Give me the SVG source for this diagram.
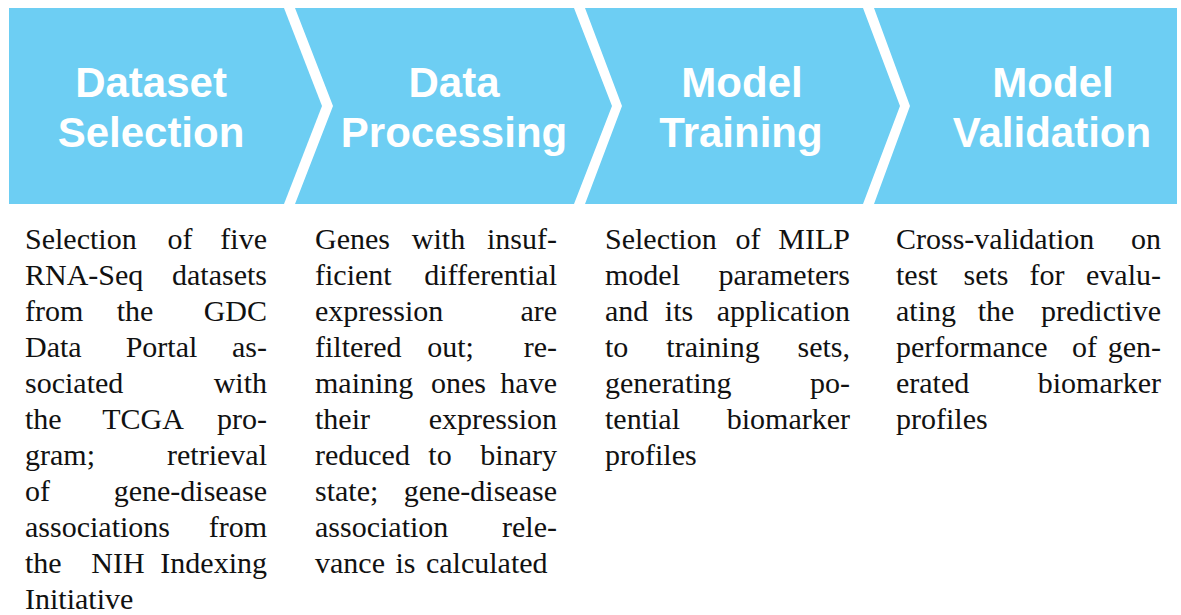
<svg xmlns="http://www.w3.org/2000/svg" width="1181" height="615" viewBox="0 0 1181 615">
<style>
.chev{fill:#6dcef3;}
.hd{font-family:"Liberation Sans",Arial,sans-serif;font-weight:bold;font-size:42px;fill:#ffffff;text-anchor:middle;}
.bd{font-family:"Liberation Serif","Times New Roman",serif;font-size:30px;fill:#111111;}
.m{text-anchor:middle;}
.r{text-anchor:end;}
</style>
<rect x="0" y="0" width="1181" height="615" fill="#ffffff"/>
<g id="connectors"/>
<g id="step1">
<polygon class="chev" points="9,8 284,8 322,106 284,204 9,204"/>
<text class="hd" x="151" y="97">Dataset</text>
<text class="hd" x="151" y="147">Selection</text>
<g class="bd">
<text x="25" y="249">Selection</text><text class="m" x="180" y="249">of</text><text class="r" x="267" y="249">five</text>
<text x="25" y="285">RNA-Seq</text><text class="r" x="267" y="285">datasets</text>
<text x="25" y="321">from</text><text class="m" x="135" y="321">the</text><text class="r" x="267" y="321">GDC</text>
<text x="25" y="357">Data</text><text class="m" x="161.5" y="357">Portal</text><text class="r" x="267" y="357">as-</text>
<text x="25" y="393">sociated</text><text class="r" x="267" y="393">with</text>
<text x="25" y="429">the</text><text class="m" x="143" y="429">TCGA</text><text class="r" x="267" y="429">pro-</text>
<text x="25" y="465">gram;</text><text class="r" x="267" y="465">retrieval</text>
<text x="25" y="501">of</text><text class="r" x="267" y="501">gene-disease</text>
<text x="25" y="537">associations</text><text class="r" x="267" y="537">from</text>
<text x="25" y="573">the</text><text class="m" x="118" y="573">NIH</text><text class="r" x="267" y="573">Indexing</text>
<text x="25" y="609">Initiative</text>
</g>
</g>
<g id="step2">
<polygon class="chev" points="295,8 574,8 612,106 574,204 295,204 333,106"/>
<text class="hd" x="454" y="97">Data</text>
<text class="hd" x="454" y="147">Processing</text>
<g class="bd">
<text x="315" y="249">Genes</text><text class="m" x="438.5" y="249">with</text><text class="r" x="557" y="249">insuf-</text>
<text x="315" y="285">ficient</text><text class="r" x="557" y="285">differential</text>
<text x="315" y="321">expression</text><text class="r" x="557" y="321">are</text>
<text x="315" y="357">filtered</text><text class="m" x="450.5" y="357">out;</text><text class="r" x="557" y="357">re-</text>
<text x="315" y="393">maining</text><text class="m" x="458.5" y="393">ones</text><text class="r" x="557" y="393">have</text>
<text x="315" y="429">their</text><text class="r" x="557" y="429">expression</text>
<text x="315" y="465">reduced</text><text class="m" x="440" y="465">to</text><text class="r" x="557" y="465">binary</text>
<text x="315" y="501">state;</text><text class="r" x="557" y="501">gene-disease</text>
<text x="315" y="537">association</text><text class="r" x="557" y="537">rele-</text>
<text x="315" y="573" word-spacing="3">vance is calculated</text>
</g>
</g>
<g id="step3">
<polygon class="chev" points="585,8 863,8 900,106 863,204 585,204 622,106"/>
<text class="hd" x="742" y="97">Model</text>
<text class="hd" x="741" y="147">Training</text>
<g class="bd">
<text x="605" y="249">Selection</text><text class="m" x="748" y="249">of</text><text class="r" x="850" y="249">MILP</text>
<text x="605" y="285">model</text><text class="r" x="850" y="285">parameters</text>
<text x="605" y="321">and</text><text class="m" x="679" y="321">its</text><text class="r" x="850" y="321">application</text>
<text x="605" y="357">to</text><text class="m" x="713" y="357">training</text><text class="r" x="850" y="357">sets,</text>
<text x="605" y="393">generating</text><text class="r" x="850" y="393">po-</text>
<text x="605" y="429">tential</text><text class="r" x="850" y="429">biomarker</text>
<text x="605" y="465">profiles</text>
</g>
</g>
<g id="step4">
<polygon class="chev" points="874,8 1177,8 1177,204 874,204 910,106"/>
<text class="hd" x="1053" y="97">Model</text>
<text class="hd" x="1052" y="147">Validation</text>
<g class="bd">
<text x="896" y="249">Cross-validation</text><text class="r" x="1161" y="249">on</text>
<text x="896" y="285">test</text><text class="m" x="986" y="285">sets</text><text class="m" x="1047" y="285">for</text><text class="r" x="1161" y="285">evalu-</text>
<text x="896" y="321">ating</text><text class="m" x="996" y="321">the</text><text class="r" x="1161" y="321">predictive</text>
<text x="896" y="357">performance</text><text class="m" x="1084.5" y="357">of</text><text class="r" x="1161" y="357">gen-</text>
<text x="896" y="393">erated</text><text class="r" x="1161" y="393">biomarker</text>
<text x="896" y="429">profiles</text>
</g>
</g>
</svg>
